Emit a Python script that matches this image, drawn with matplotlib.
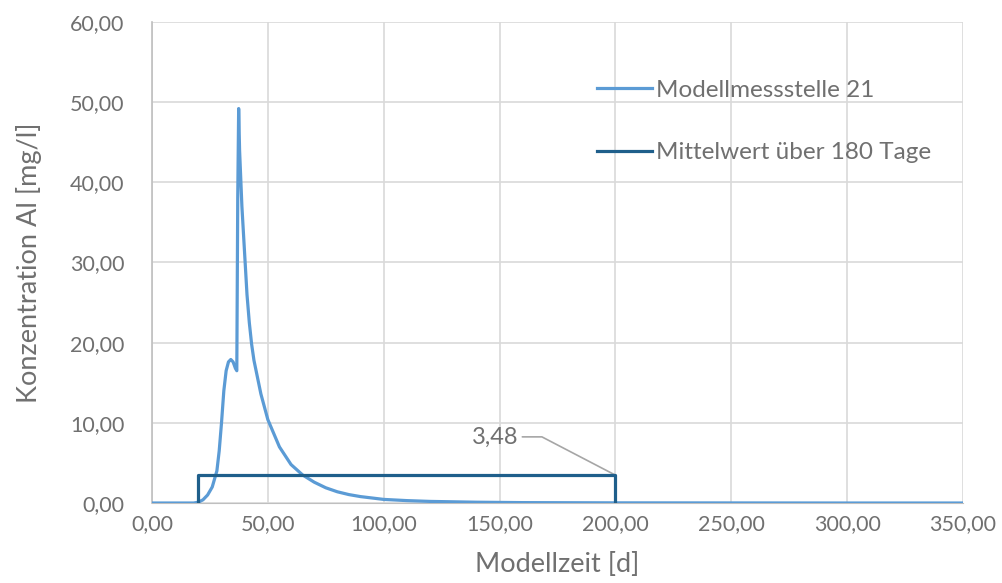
import matplotlib

matplotlib.use("Agg")
import matplotlib.pyplot as plt
from matplotlib.ticker import FuncFormatter, MultipleLocator

plt.rcParams["font.family"] = ["Lato", "DejaVu Sans"]

# Modellmessstelle 21
zeit = [0, 18, 20, 22, 24, 26, 28, 29, 30, 31, 32, 33, 34, 35, 36, 36.6,
        37.0, 37.4, 37.8, 38.3, 38.8, 40, 41, 42, 43, 44, 45, 47, 50, 55,
        60, 65, 70, 75, 80, 85, 90, 100, 110, 120, 140, 160, 200, 250, 300, 350]
konz = [0, 0, 0.1, 0.4, 1.0, 2.0, 4.0, 6.5, 10.0, 14.0, 16.5, 17.6, 17.9, 17.6, 16.8, 16.5,
        38.0, 49.2, 44.0, 40.5, 37.0, 31.0, 26.0, 22.5, 19.8, 17.8, 16.4, 13.6, 10.4, 7.0,
        4.8, 3.5, 2.6, 1.9, 1.4, 1.05, 0.8, 0.45, 0.3, 0.2, 0.1, 0.05, 0.02, 0.01, 0, 0]

# Mittelwert über 180 Tage
mittel_zeit = [20, 20, 200, 200]
mittel_wert = [0, 3.48, 3.48, 0]
mittel_label = "3,48"

grey = "#707070"

fig = plt.figure(figsize=(10.02, 5.83), dpi=100)
ax = fig.add_axes([0.1517, 0.1372, 0.8093, 0.8251])

ax.plot(zeit, konz, color="#5B9BD5", lw=2.3, label="Modellmessstelle 21", zorder=3,
        solid_joinstyle="round")
ax.plot(mittel_zeit, mittel_wert, color="#1F5F8B", lw=2.3, label="Mittelwert über 180 Tage",
        zorder=4)

ax.annotate(mittel_label, xy=(mittel_zeit[2], mittel_wert[2]), xytext=(148, 8.25),
            ha="center", va="center", fontsize=17, color=grey,
            arrowprops=dict(arrowstyle="-", color="#A6A6A6", lw=1.2, shrinkA=1, shrinkB=0,
                            connectionstyle="angle,angleA=0,angleB=-27.5,rad=0"))

ax.set_xlim(0, 350)
ax.set_ylim(0, 60)
ax.xaxis.set_major_locator(MultipleLocator(50))
ax.yaxis.set_major_locator(MultipleLocator(10))
fmt = FuncFormatter(lambda v, p: f"{v:.2f}".replace(".", ","))
ax.xaxis.set_major_formatter(fmt)
ax.yaxis.set_major_formatter(fmt)

ax.grid(True, color="#D9D9D9", lw=1.2)
ax.set_axisbelow(True)
for s in ["top", "right"]:
    ax.spines[s].set_visible(False)
ax.spines["left"].set_color("#BFBFBF")
ax.spines["bottom"].set_color("#BFBFBF")
ax.spines["left"].set_linewidth(1.2)
ax.tick_params(length=0, labelsize=15.5, colors=grey)
ax.tick_params(axis="x", pad=8)
ax.tick_params(axis="y", pad=20)

ax.set_xlabel("Modellzeit [d]", fontsize=19.5, color=grey, labelpad=13)
ax.set_ylabel("Konzentration Al [mg/l]", fontsize=19.5, color=grey, labelpad=20)

leg = ax.legend(loc="upper left", bbox_to_anchor=(0.5487, 0.88), frameon=False,
                borderaxespad=0, borderpad=0,
                fontsize=17.5, labelcolor=grey, handlelength=2.26, handletextpad=0.16,
                labelspacing=1.71)

fig.savefig("out.png", dpi=100)
